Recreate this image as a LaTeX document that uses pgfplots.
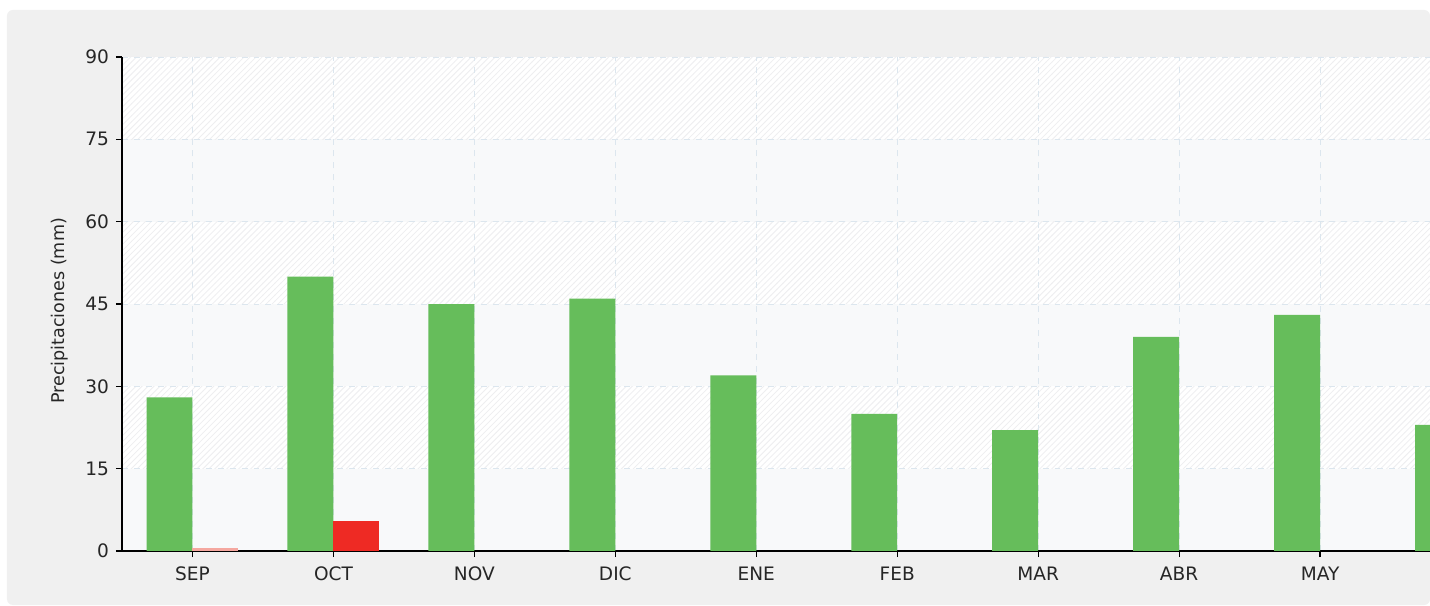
\documentclass[border=0pt]{standalone}
\usepackage{pgfplots}
\pgfplotsset{compat=1.18}
\usepackage{fontspec}
\setmainfont{DejaVu Sans}
\usetikzlibrary{patterns}
\definecolor{bggray}{HTML}{F0F0F0}
\definecolor{band}{HTML}{F8F9FA}
\definecolor{hatch}{HTML}{EEEEF0}
\definecolor{gridc}{HTML}{DCE6EE}
\definecolor{barg}{HTML}{66BD5B}
\definecolor{barr}{HTML}{EE2A24}
\definecolor{barp}{HTML}{F5A8A0}
\begin{document}
\begin{tikzpicture}
\useasboundingbox (-61bp,-27.5bp) rectangle (654bp,275.5bp);
\fill[white] (-61bp,-27.5bp) rectangle (654bp,275.5bp);
\fill[bggray, rounded corners=3bp] (-57.5bp,-27bp) rectangle (654bp,270.5bp);
\fill[white] (0,0) rectangle (654bp,247bp);
\fill[band] (0,0) rectangle (654bp,41.1667bp);
\fill[band] (0,82.333bp) rectangle (654bp,123.5bp);
\fill[band] (0,164.667bp) rectangle (654bp,205.833bp);
\fill[pattern=north east lines, pattern color=hatch] (0,41.1667bp) rectangle (654bp,82.333bp);
\fill[pattern=north east lines, pattern color=hatch] (0,123.5bp) rectangle (654bp,164.667bp);
\fill[pattern=north east lines, pattern color=hatch] (0,205.833bp) rectangle (654bp,247bp);
\begin{axis}[
  at={(0,0)}, anchor=south west,
  scale only axis, width=654bp, height=247bp,
  xmin=-0.5, xmax=8.78, ymin=0, ymax=90,
  ytick={0,15,...,90},
  xtick={0,...,8},
  xticklabels={SEP,OCT,NOV,DIC,ENE,FEB,MAR,ABR,MAY},
  axis lines=left, axis line style={-, black, line width=0.6pt},
  tick align=outside, major tick length=3bp,
  tick style={black, line width=0.6pt},
  grid=major, major grid style={gridc, dashed, line width=0.4pt},
  ybar, bar width=0.326,
  /pgf/number format/assume math mode=true,
  tick label style={font=\fontsize{9.3}{11}\selectfont, text=black!85},
  yticklabel style={xshift=0bp},
  xticklabel style={yshift=-1.5bp},
  ylabel={Precipitaciones (mm)},
  ylabel style={font=\fontsize{8.8}{11}\selectfont, text=black!85, at={(axis description cs:-0.048,0.486)}, anchor=center},
]
\addplot[fill=barg, draw=none, bar shift=-0.163] coordinates {
(0,28) (1,50) (2,45) (3,46) (4,32) (5,25) (6,22) (7,39) (8,43) (9,23)};
\addplot[fill=barr, draw=none, bar shift=0.163] coordinates {(1,5.4)};
\addplot[fill=barp, draw=none, bar shift=0.163] coordinates {(0,0.5)};
\end{axis}
\end{tikzpicture}
\end{document}
